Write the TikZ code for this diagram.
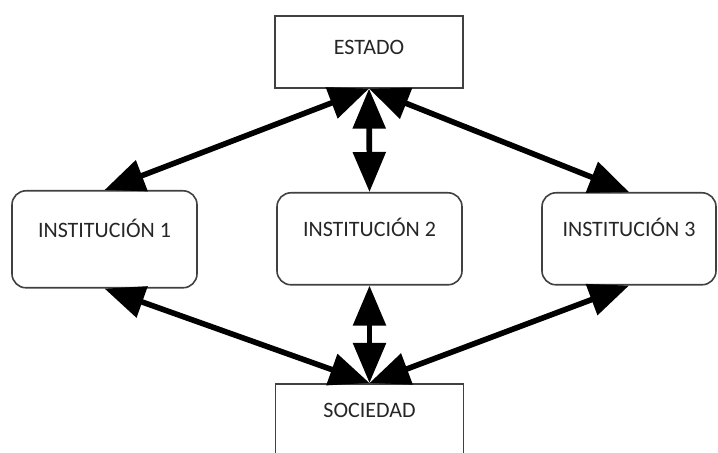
\documentclass[tikz,border=0pt]{standalone}
\usepackage{fontspec}
\setmainfont{Carlito}
\usetikzlibrary{arrows.meta}
\begin{document}
\begin{tikzpicture}[
        x=0.5pt, y=0.5pt,
        every node/.style={font=\fontsize{11}{13}\selectfont, text=black!85},
        caja/.style={draw=black!75, line width=0.8pt, fill=white, anchor=north,
          minimum width=94pt, minimum height=36pt, text height=8pt, text depth=5pt},
        inst/.style={caja, rounded corners=7pt, minimum width=92.5pt,
          minimum height=46pt, text depth=10pt},
        flecha/.style={line width=2.8pt,
          {Triangle[length=20pt,width=16pt]}-{Triangle[length=20pt,width=16pt]}}
      ]
      \useasboundingbox (0,0) rectangle (718,453);
      \node[caja] (estado) at (369,438) {ESTADO};
      \node[inst, minimum height=48.5pt] (inst1) at (104.5,263) {INSTITUCIÓN 1};
      \node[inst] (inst2) at (369.5,261) {INSTITUCIÓN 2};
      \node[inst, minimum width=87pt] (inst3) at (629,261) {INSTITUCIÓN 3};
      \node[caja, text depth=10pt] (sociedad) at (369.5,70) {SOCIEDAD};
      % flechas de ida y vuelta
      \draw[flecha] (estado.south) -- (inst1.north);
      \draw[flecha] (estado.south) -- (inst2.north);
      \draw[flecha] (estado.south) -- (inst3.north);
      \draw[flecha] (inst1.south) -- (sociedad.north);
      \draw[flecha] (inst2.south) -- (sociedad.north);
      \draw[flecha] (inst3.south) -- (sociedad.north);
\end{tikzpicture}
\end{document}
